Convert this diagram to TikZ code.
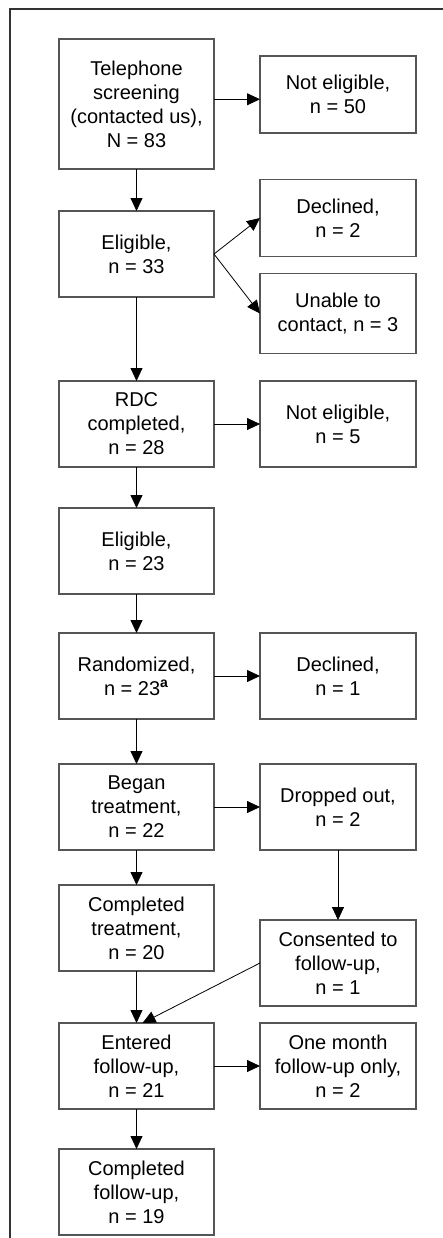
\documentclass[tikz,border=0pt]{standalone}
\usepackage{fontspec}
\setmainfont{Liberation Sans}
\usepackage{tikz}
\usetikzlibrary{arrows.meta, positioning, calc}
\definecolor{boxline}{RGB}{85,85,85}
\definecolor{frameline}{RGB}{51,51,51}

\begin{document}
\begin{tikzpicture}[node distance=23pt, >={Triangle[length=6.5pt, width=6pt]},
  every node/.style={font=\fontsize{10pt}{12pt}\selectfont},
  box/.style={draw=boxline, line width=0.75pt, outer sep=0pt, minimum width=77.5pt, minimum height=43pt, inner sep=2pt, align=center},
  rbox/.style={box, minimum width=78pt}]
\useasboundingbox (0,0) rectangle (221.5pt,-619pt);
\draw[frameline, line width=0.6pt] (221.5pt,-4.5pt) -- (5pt,-4.5pt) -- (5pt,-619pt);
\node[box, minimum height=65pt] (screen) at (68.25pt,-52pt) {Telephone\\screening\\(contacted us),\\N = 83};
\node[box, below=21pt of screen] (elig) {Eligible,\\n = 33};
\node[box, below=42pt of elig] (rdc) {RDC\\completed,\\n = 28};
\node[box, below=20.5pt of rdc] (elig2) {Eligible,\\n = 23};
\node[box, below=19.5pt of elig2] (rand) {Randomized,\\n = 23\textsuperscript{\scriptsize\bfseries a}};
\node[box, below=22.5pt of rand] (began) {Began\\treatment,\\n = 22};
\node[box, below=17.5pt of began] (comptreat) {Completed\\treatment,\\n = 20};
\node[box, below=26pt of comptreat] (entered) {Entered\\follow-up,\\n = 21};
\node[box, below=20pt of entered] (compfollow) {Completed\\follow-up,\\n = 19};
\node[rbox, minimum height=38.5pt, right=of screen, yshift=4.75pt] (notelig) {Not eligible,\\n = 50};
\node[rbox, minimum height=38.5pt, right=of elig, yshift=18pt] (declined) {Declined,\\n = 2};
\node[rbox, minimum height=40pt, right=of elig, yshift=-29.75pt] (unable) {Unable to\\contact, n = 3};
\node[rbox, right=of rdc] (notelig2) {Not eligible,\\n = 5};
\node[rbox, right=of rand] (declined2) {Declined,\\n = 1};
\node[rbox, right=of began] (dropped) {Dropped out,\\n = 2};
\node[rbox, below=35pt of dropped] (consented) {Consented to\\follow-up,\\n = 1};
\node[rbox, right=of entered] (onemonth) {One month\\follow-up only,\\n = 2};
\draw[->] ($(screen.east)!0.5!(screen.east |- notelig.west)$) -- (notelig.west |- {$(screen.east)!0.5!(screen.east |- notelig.west)$});
\draw[->] (screen) -- (elig);
\draw[->] (elig.east) -- (declined.west);
\draw[->] (elig.east) -- (unable.west);
\draw[->] (elig) -- (rdc);
\draw[->] (rdc) -- (notelig2);
\draw[->] (rdc) -- (elig2);
\draw[->] (elig2) -- (rand);
\draw[->] (rand) -- (declined2);
\draw[->] (rand) -- (began);
\draw[->] (began) -- (dropped);
\draw[->] (began) -- (comptreat);
\draw[->] (dropped) -- (consented);
\draw[->] (comptreat) -- (entered);
\draw[->] (consented.west) -- ($(entered.north)+(3pt,0)$);
\draw[->] (entered) -- (onemonth);
\draw[->] (entered) -- (compfollow);
\end{tikzpicture}
\end{document}
